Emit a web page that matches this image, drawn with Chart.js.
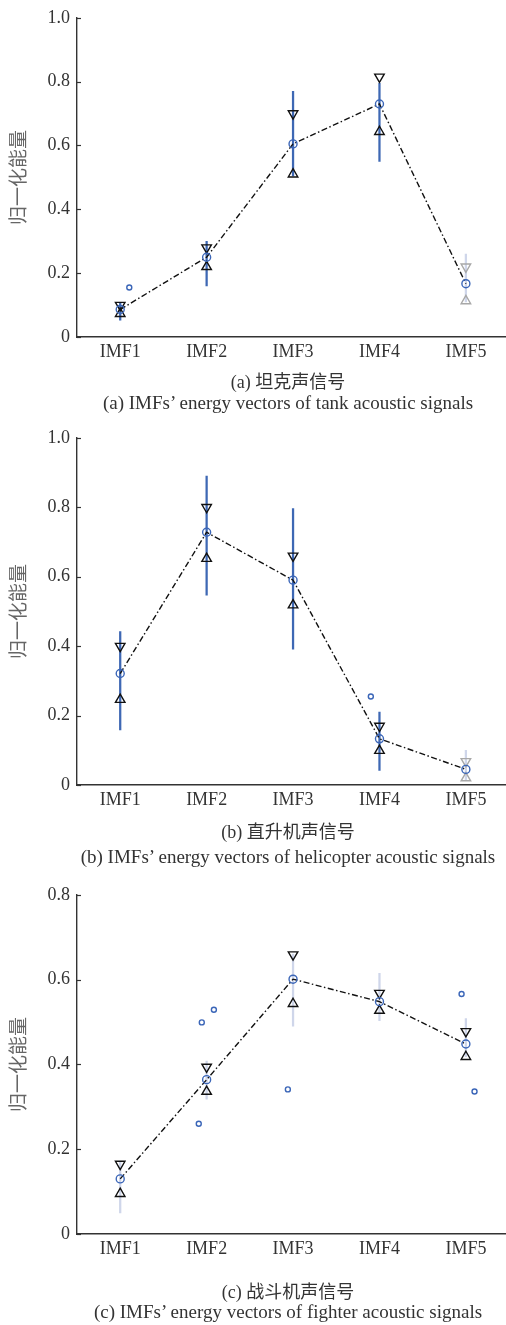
<!DOCTYPE html>
<html>
<head>
<meta charset="utf-8">
<script src="https://cdn.jsdelivr.net/npm/chart.js@4.4.0/dist/chart.umd.min.js"></script>
<style>
  body { margin: 0; background: #fff; width: 506px; height: 1325px; position: relative; overflow: hidden; }
  canvas { position: absolute; left: 0; }
  .cap { position: absolute; left: 0; width: 576px; text-align: center; color: #333;
         font-family: "Liberation Serif", "Noto Sans CJK SC", serif; white-space: nowrap; }
  .zh { font-size: 18px; }
  .en { font-size: 19px; }
</style>
</head>
<body>
<canvas id="chartA" style="top:0px"></canvas>
<div class="cap zh" style="top:367px">(a) 坦克声信号</div>
<div class="cap en" style="top:392px">(a) IMFs’ energy vectors of tank acoustic signals</div>

<canvas id="chartB" style="top:420px"></canvas>
<div class="cap zh" style="top:817px">(b) 直升机声信号</div>
<div class="cap en" style="top:846px">(b) IMFs’ energy vectors of helicopter acoustic signals</div>

<canvas id="chartC" style="top:877px"></canvas>
<div class="cap zh" style="top:1277px">(c) 战斗机声信号</div>
<div class="cap en" style="top:1301px">(c) IMFs’ energy vectors of fighter acoustic signals</div>

<script>
// --- categories ---
const categories = ["IMF1", "IMF2", "IMF3", "IMF4", "IMF5"];

// --- (a) tank ---
const meanA    = [0.086, 0.25, 0.605, 0.73, 0.167];
const upperA   = [0.10, 0.28, 0.70, 0.815, 0.22];
const lowerA   = [0.073, 0.22, 0.51, 0.643, 0.113];
const barHighA = [0.106, 0.30, 0.77, 0.795, 0.26];
const barLowA  = [0.053, 0.16, 0.505, 0.55, 0.11];
const outliersA = [{ x: 1.105, y: 0.155 }];

// --- (b) helicopter ---
const meanB    = [0.321, 0.728, 0.59, 0.133, 0.045];
const upperB   = [0.40, 0.80, 0.66, 0.17, 0.068];
const lowerB   = [0.246, 0.652, 0.518, 0.099, 0.02];
const barHighB = [0.442, 0.89, 0.796, 0.21, 0.10];
const barLowB  = [0.159, 0.547, 0.391, 0.042, 0.015];
const outliersB = [{ x: 3.9, y: 0.255 }];

// --- (c) fighter ---
const meanC    = [0.130, 0.364, 0.601, 0.548, 0.448];
const upperC   = [0.165, 0.394, 0.659, 0.568, 0.478];
const lowerC   = [0.095, 0.336, 0.543, 0.527, 0.418];
const barHighC = [0.17, 0.408, 0.66, 0.615, 0.508];
const barLowC  = [0.05, 0.318, 0.49, 0.503, 0.418];
const outliersC = [
    { x: 1.944, y: 0.499 }, { x: 2.084, y: 0.529 }, { x: 1.909, y: 0.26 },
    { x: 2.94, y: 0.341 }, { x: 4.95, y: 0.566 }, { x: 5.1, y: 0.336 }
];

// colours
const BLUE = "#3b66b8";
const BAR_DARK = "#3e68b4";
const BAR_LIGHT = "#cfd6ea";
const TRI_DARK = "#111";
const TRI_GRAY = "#a8a8a8";
const SERIF = "'Liberation Serif', 'Times New Roman', serif";
const CANVAS_W = 516; // a bit wider than the page so the plot area runs past the right edge

// small inward tick marks on the y axis
const inwardTicks = {
    id: "inwardTicks",
    afterDraw(chart) {
        const y = chart.scales.y, ctx = chart.ctx;
        const left = chart.chartArea.left;
        ctx.save();
        ctx.strokeStyle = "#333";
        ctx.lineWidth = 1.2;
        y.ticks.forEach(t => {
            const py = Math.round(y.getPixelForValue(t.value)) + 0.5;
            ctx.beginPath();
            ctx.moveTo(left, py);
            ctx.lineTo(left + 4, py);
            ctx.stroke();
        });
        ctx.restore();
    }
};

function xy(arr) {
    return arr.map((v, i) => ({ x: i + 1, y: v }));
}

function makeChart(id, height, yMax, mean, upper, lower, hi, lo, outliers, barColors, triColors) {
    const canvas = document.getElementById(id);
    canvas.width = CANVAS_W;
    canvas.height = height;
    canvas.style.width = CANVAS_W + "px";
    canvas.style.height = height + "px";

    return new Chart(canvas, {
        data: {
            datasets: [
                {
                    type: "bar",
                    data: hi.map((h, i) => ({ x: i + 1, y: [lo[i], h] })),
                    backgroundColor: barColors,
                    barThickness: 1.6,
                    order: 6
                },
                {
                    type: "line",
                    data: xy(mean),
                    borderColor: "#111",
                    borderWidth: 1.4,
                    borderDash: [6, 2.5, 1.5, 2.5],
                    pointRadius: 4,
                    pointBorderColor: BLUE,
                    pointBackgroundColor: "rgba(0,0,0,0)",
                    pointBorderWidth: 1.4,
                    order: 1
                },
                {
                    type: "scatter",
                    data: xy(upper),
                    pointStyle: "triangle",
                    rotation: 180,
                    pointRadius: 5.5,
                    pointBorderColor: triColors,
                    pointBackgroundColor: "rgba(0,0,0,0)",
                    pointBorderWidth: 1.4,
                    order: 3
                },
                {
                    type: "scatter",
                    data: xy(lower),
                    pointStyle: "triangle",
                    pointRadius: 5.5,
                    pointBorderColor: triColors,
                    pointBackgroundColor: "rgba(0,0,0,0)",
                    pointBorderWidth: 1.4,
                    order: 4
                },
                {
                    type: "scatter",
                    data: outliers,
                    pointRadius: 2.5,
                    pointBorderColor: BLUE,
                    pointBackgroundColor: "rgba(0,0,0,0)",
                    pointBorderWidth: 1.4,
                    order: 2
                }
            ]
        },
        options: {
            responsive: false,
            animation: false,
            events: [],
            layout: { padding: { top: 12, right: 0, left: 0, bottom: 0 } },
            plugins: { legend: { display: false }, tooltip: { enabled: false } },
            scales: {
                x: {
                    type: "linear",
                    offset: false,
                    min: 0.5,
                    max: 5.5,
                    afterBuildTicks: s => { s.ticks = categories.map((c, i) => ({ value: i + 1 })); },
                    ticks: {
                        callback: v => categories[v - 1],
                        color: "#333",
                        font: { family: SERIF, size: 18 },
                        padding: 4,
                        maxRotation: 0
                    },
                    grid: { display: false, drawTicks: false },
                    border: { color: "#333", width: 1.4 },
                    afterFit: s => { s.height = 33; }
                },
                y: {
                    min: 0,
                    max: yMax,
                    ticks: {
                        stepSize: 0.2,
                        callback: v => (v === 0 ? "0" : v.toFixed(1)),
                        color: "#333",
                        font: { family: SERIF, size: 18 },
                        padding: 7
                    },
                    grid: { display: false, drawTicks: false },
                    border: { color: "#333", width: 1.4 },
                    title: {
                        display: true,
                        text: "归一化能量",
                        color: "#666",
                        font: { family: "'Noto Sans CJK SC'", size: 19 },
                        padding: { top: 6, bottom: 0 }
                    },
                    afterFit: s => { s.width = 77; }
                }
            }
        },
        plugins: [inwardTicks]
    });
}

const darkBars = () => categories.map((_, i) => (i === 4 ? BAR_LIGHT : BAR_DARK));
const darkTris = () => categories.map((_, i) => (i === 4 ? TRI_GRAY : TRI_DARK));

makeChart("chartA", 370, 1.0, meanA, upperA, lowerA, barHighA, barLowA, outliersA,
    darkBars(), darkTris());
makeChart("chartB", 398, 1.0, meanB, upperB, lowerB, barHighB, barLowB, outliersB,
    darkBars(), darkTris());
makeChart("chartC", 390, 0.8, meanC, upperC, lowerC, barHighC, barLowC, outliersC,
    categories.map(() => BAR_LIGHT), categories.map(() => TRI_DARK));
</script>
</body>
</html>
